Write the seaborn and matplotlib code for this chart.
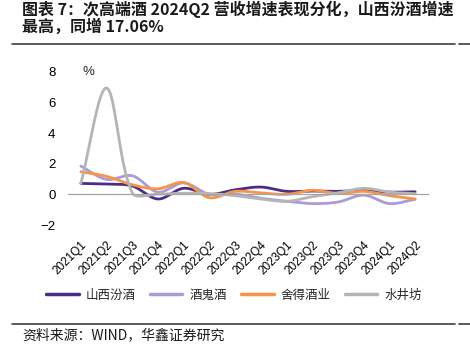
import numpy as np
import pandas as pd
import matplotlib
matplotlib.use("Agg")
import matplotlib.pyplot as plt
import seaborn as sns
from matplotlib.lines import Line2D

quarters = ["2021Q1", "2021Q2", "2021Q3", "2021Q4", "2022Q1", "2022Q2", "2022Q3",
            "2022Q4", "2023Q1", "2023Q2", "2023Q3", "2023Q4", "2024Q1", "2024Q2"]
fenjiu = [0.72, 0.68, 0.55, -0.30, 0.40, 0.00, 0.30, 0.48, 0.20, 0.22, 0.20, 0.25, 0.15, 0.17]
jiuguijiu = [1.85, 0.98, 1.22, 0.15, 0.75, 0.00, 0.02, -0.25, -0.45, -0.60, -0.50, -0.05, -0.60, -0.32]
shede = [1.48, 1.18, 0.63, 0.37, 0.78, -0.22, 0.20, 0.10, 0.00, 0.27, 0.06, 0.20, -0.08, -0.30]
shuijingfang = [0.72, 6.95, 0.10, 0.02, 0.08, 0.05, -0.08, -0.30, -0.45, -0.15, 0.10, 0.40, 0.15, 0.05]

series_names = ["山西汾酒", "酒鬼酒", "舍得酒业", "水井坊"]
series_vals = [fenjiu, jiuguijiu, shede, shuijingfang]
colors = ["#4B2C87", "#A99BD8", "#F7944C", "#B5B5B5"]

yticks = [-2, 0, 2, 4, 6, 8]

title1 = "图表 7：次高端酒 2024Q2 营收增速表现分化，山西汾酒增速"
title2 = "最高，同增 17.06%"
source = "资料来源：WIND，华鑫证券研究"


def smooth(xs, ys, sx=25.7, sy=15.3, n=40):
    """Excel-like smoothed line: Bezier segments whose tangents are scaled by chord lengths
    (measured in screen units, sx/sy = pixels per data unit)."""
    P = np.column_stack([np.asarray(xs, float) * sx, np.asarray(ys, float) * sy])
    m = len(P)
    L = np.linalg.norm(np.diff(P, axis=0), axis=1)
    T = np.zeros_like(P)
    for i in range(m):
        if i == 0:
            T[i] = (P[1] - P[0]) / 2
        elif i == m - 1:
            T[i] = (P[-1] - P[-2]) / 2
        else:
            T[i] = P[i + 1] - P[i - 1]
    t = np.linspace(0, 1, n)[:, None]
    out = []
    for i in range(m - 1):
        if 0 < i:
            a = L[i] / (L[i - 1] + L[i])
            c1 = P[i] + T[i] * a / 3
        else:
            c1 = P[i] + T[i] * 2 / 3
        if i + 1 < m - 1:
            b = L[i] / (L[i] + L[i + 1])
            c2 = P[i + 1] - T[i + 1] * b / 3
        else:
            c2 = P[i + 1] - T[i + 1] * 2 / 3
        B = (1 - t) ** 3 * P[i] + 3 * (1 - t) ** 2 * t * c1 + 3 * (1 - t) * t ** 2 * c2 + t ** 3 * P[i + 1]
        out.append(B if i == 0 else B[1:])
    B = np.vstack(out)
    return B[:, 0] / sx, B[:, 1] / sy


sns.set_theme(style="white")
plt.rcParams["font.family"] = ["Noto Sans CJK SC", "DejaVu Sans"]
plt.rcParams["axes.unicode_minus"] = True

fig = plt.figure(figsize=(4.7, 3.56), dpi=100)
ax = fig.add_axes([68 / 470, 1 - 225 / 356, 360 / 470, 153 / 356])

xpos = np.arange(len(quarters))
for name, vals, c in zip(series_names, series_vals, colors):
    sx_, sy_ = smooth(xpos, vals)
    df = pd.DataFrame({"x": sx_, "y": sy_})
    sns.lineplot(data=df, x="x", y="y", ax=ax, color=c, linewidth=2.0, sort=False,
                 estimator=None, label=name, legend=False)

ax.set_xlim(-0.5, len(quarters) - 0.5)
ax.set_ylim(-2, 8)
ax.set_xlabel("")
ax.set_ylabel("")
for s in ["top", "right", "left"]:
    ax.spines[s].set_visible(False)
ax.spines["bottom"].set_position(("data", 0))
ax.spines["bottom"].set_color("#A6A6A6")
ax.spines["bottom"].set_linewidth(0.9)
ax.set_yticks(yticks)
ax.set_yticklabels([f"{v}".replace("-", "−") for v in yticks], fontsize=9.5,
                   family=["Liberation Sans", "DejaVu Sans"], color="#000000")
ax.tick_params(axis="y", length=0, pad=9)
ax.set_xticks(xpos)
ax.set_xticklabels(quarters, rotation=45, ha="right", rotation_mode="anchor",
                   fontsize=8.5, family=["Liberation Sans", "DejaVu Sans"], color="#000000")
ax.tick_params(axis="x", which="major", length=0, pad=32)
ax.set_xticks(np.arange(len(quarters) + 1) - 0.5, minor=True)
ax.tick_params(axis="x", which="minor", length=3.5, width=0.8, color="#A6A6A6", direction="out")
ax.grid(False)
ax.set_facecolor("white")

ax.text(0.058, 1.0, "%", transform=ax.transAxes, fontsize=9.5, ha="center", va="center",
        family=["Liberation Sans", "DejaVu Sans"])

handles = [Line2D([0], [0], color=c, lw=2.5) for c in colors]
fig.legend(handles, series_names, loc="center left", bbox_to_anchor=(46 / 470, 1 - 295 / 356),
           ncol=4, frameon=False, fontsize=9, handlelength=2.6, handletextpad=0.6,
           columnspacing=1.1, borderpad=0, borderaxespad=0)

fig.text(22 / 470, 1 - 9 / 356, title1, fontsize=11.5, fontweight="bold", ha="left", va="center",
         color="#1a1a1a")
fig.text(22 / 470, 1 - 27 / 356, title2, fontsize=11.5, fontweight="bold", ha="left", va="center",
         color="#1a1a1a")
fig.add_artist(Line2D([12 / 470, 455 / 470], [1 - 44 / 356, 1 - 44 / 356], color="#404040", lw=1.2,
                      transform=fig.transFigure))
fig.add_artist(Line2D([459 / 470, 1.0], [1 - 44 / 356, 1 - 44 / 356], color="#404040", lw=1.2,
                      transform=fig.transFigure))
fig.add_artist(Line2D([12 / 470, 455 / 470], [1 - 324 / 356, 1 - 324 / 356], color="#404040", lw=1.2,
                      transform=fig.transFigure))
fig.add_artist(Line2D([459 / 470, 1.0], [1 - 324 / 356, 1 - 324 / 356], color="#404040", lw=1.2,
                      transform=fig.transFigure))
fig.text(22 / 470, 1 - 335 / 356, source, fontsize=10, ha="left", va="center", color="#1a1a1a")

fig.savefig("out.png", dpi=100)
